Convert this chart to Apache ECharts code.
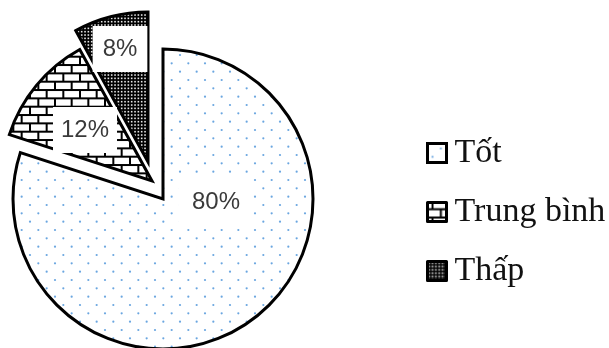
<!DOCTYPE html>
<html>
<head>
<meta charset="utf-8">
<script src="https://cdn.jsdelivr.net/npm/echarts@6/dist/echarts.min.js"></script>
<style>
  html, body { margin: 0; padding: 0; background: #fff; }
  #chart { width: 609px; height: 348px; }
</style>
</head>
<body>
<div id="chart"></div>
<script>
// Quality shares
const categories = ['Tốt', 'Trung bình', 'Thấp'];
const values = [80, 12, 8];

// Fill patterns drawn on small canvases
function dotPattern() {
  const c = document.createElement('canvas');
  c.width = 50; c.height = 50;
  const g = c.getContext('2d');
  g.fillStyle = '#ffffff';
  g.fillRect(0, 0, 50, 50);
  g.fillStyle = '#6aa6e0';
  const step = 50 / 3, row = 50 / 6;
  for (let k = 0; k < 6; k++) {
    const y = 5 + k * row;
    const x0 = k % 2 === 0 ? 13.33 : 5;
    for (let j = 0; j < 3; j++) {
      g.beginPath();
      g.arc((x0 + j * step) % 50, y % 50, 1.1, 0, Math.PI * 2);
      g.fill();
    }
  }
  return c;
}

function brickPattern() {
  const c = document.createElement('canvas');
  c.width = 50; c.height = 50;
  const g = c.getContext('2d');
  g.fillStyle = '#ffffff';
  g.fillRect(0, 0, 50, 50);
  g.fillStyle = '#000000';
  const row = 50 / 6, step = 50 / 3;
  for (let k = 0; k < 6; k++) {
    const y = 6.7 + k * row - 50 * Math.floor((6.7 + k * row) / 50);
    g.fillRect(0, y - 1, 50, 2);
    const x0 = k % 2 === 1 ? 5 : 13.33;
    for (let j = 0; j < 3; j++) {
      const x = x0 + j * step;
      g.fillRect(x - 1, y, 2, row);
      if (y + row > 50) g.fillRect(x - 1, y - 50, 2, row);
    }
  }
  return c;
}

function densePattern() {
  const c = document.createElement('canvas');
  c.width = 10; c.height = 10;
  const g = c.getContext('2d');
  g.fillStyle = '#000000';
  g.fillRect(0, 0, 10, 10);
  g.fillStyle = '#e6e6e6';
  const s = 10 / 3;
  for (let i = 0; i < 3; i++) {
    for (let j = 0; j < 3; j++) {
      g.fillRect(i * s + 0.9, j * s + 0.9, 1.6, 1.6);
    }
  }
  return c;
}

const fills = [
  { image: dotPattern(), repeat: 'repeat' },
  { image: brickPattern(), repeat: 'repeat' },
  { image: densePattern(), repeat: 'repeat' }
];

// Each slice is pulled out on its own, so each gets its own pie series
const centers = [[163, 199], [152, 181], [148, 162]];
const labelPos = [[216, 202], [85, 130], [120, 49]];
const labelPad = [[12, 13], [11, 8], [11, 10]];

const series = categories.map(function (_, s) {
  return {
    type: 'pie',
    center: centers[s],
    radius: [0, 150],
    startAngle: 90,
    clockwise: true,
    silent: true,
    animation: false,
    avoidLabelOverlap: false,
    emphasis: { disabled: true },
    labelLine: { show: false },
    labelLayout: {
      x: labelPos[s][0],
      y: labelPos[s][1],
      align: 'center',
      verticalAlign: 'middle'
    },
    data: categories.map(function (name, i) {
      const shown = i === s;
      return {
        name: name,
        value: values[i],
        itemStyle: shown
          ? { color: fills[i], borderColor: '#000', borderWidth: 3, borderJoin: 'miter', borderMiterLimit: 20 }
          : { color: 'rgba(0,0,0,0)', borderWidth: 0 },
        label: shown
          ? {
              show: true,
              position: 'inside',
              formatter: '{d}%',
              fontFamily: 'Liberation Sans',
              fontSize: 24,
              lineHeight: 24,
              color: '#3a3a3a',
              backgroundColor: '#ffffff',
              padding: labelPad[s]
            }
          : { show: false }
      };
    })
  };
});

const chart = echarts.init(document.getElementById('chart'), null, { renderer: 'canvas' });
chart.setOption({
  backgroundColor: '#ffffff',
  animation: false,
  legend: {
    orient: 'vertical',
    left: 426,
    top: 136,
    padding: 0,
    selectedMode: false,
    itemWidth: 19,
    itemHeight: 19,
    itemGap: 25,
    icon: 'rect',
    textStyle: {
      fontFamily: 'Liberation Serif',
      fontSize: 34,
      lineHeight: 30,
      color: '#111',
      padding: [0, 0, 0, 3]
    },
    data: categories.map(function (name, i) {
      return {
        name: name,
        icon: 'rect',
        itemStyle: { color: fills[i], borderColor: '#000', borderWidth: 3 }
      };
    })
  },
  series: series
});
</script>
</body>
</html>
